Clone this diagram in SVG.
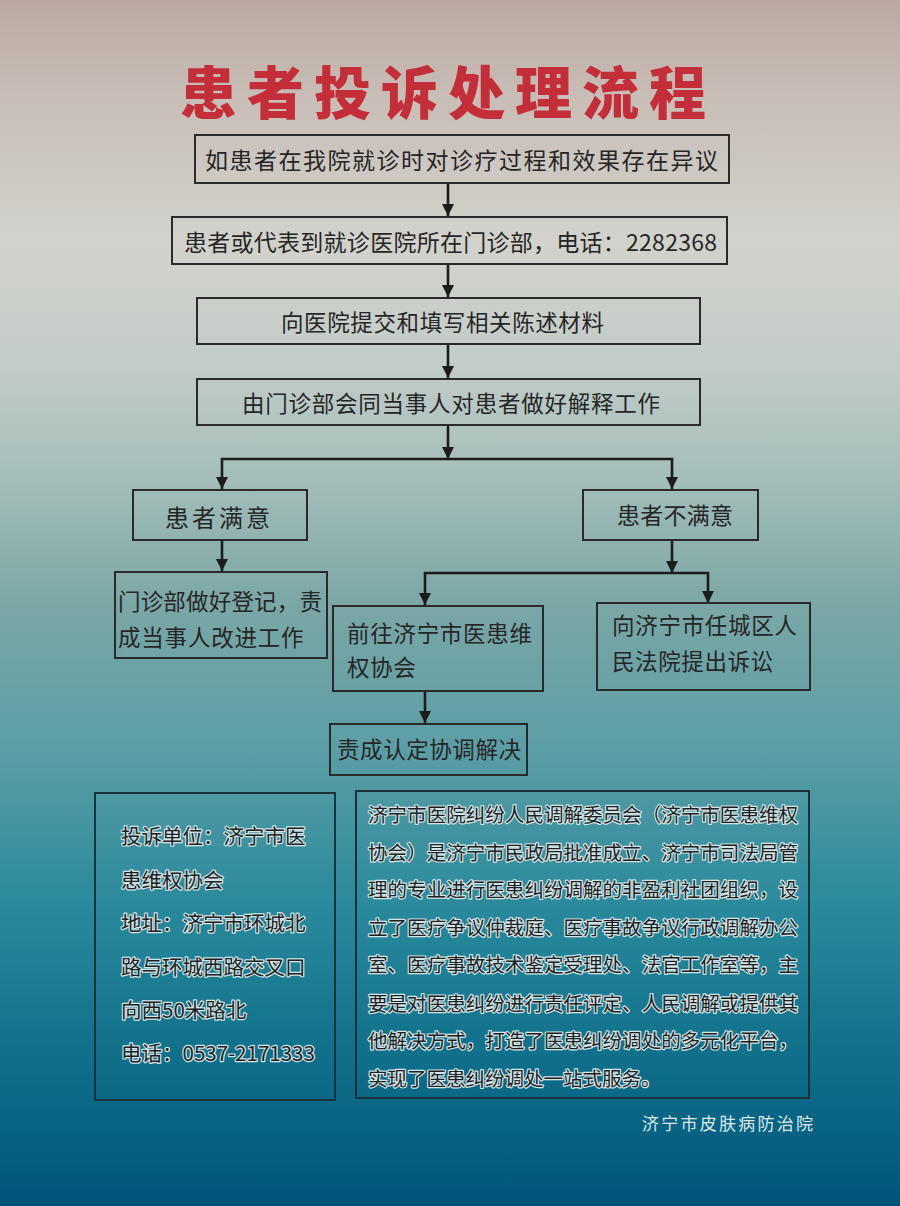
<svg xmlns="http://www.w3.org/2000/svg" width="900" height="1206" viewBox="0 0 900 1206">
<defs>
<linearGradient id="bg" x1="0" y1="0" x2="0" y2="1">
<stop offset="0" stop-color="#bba9a1"/>
<stop offset="0.08" stop-color="#c8bdb7"/>
<stop offset="0.2" stop-color="#d2d2cc"/>
<stop offset="0.3" stop-color="#c3ccc8"/>
<stop offset="0.4" stop-color="#a3bdb9"/>
<stop offset="0.5" stop-color="#7ba7a6"/>
<stop offset="0.62" stop-color="#5c9ea6"/>
<stop offset="0.75" stop-color="#2a8a9c"/>
<stop offset="0.88" stop-color="#0f6f8a"/>
<stop offset="1" stop-color="#01547a"/>
</linearGradient>
<marker id="arr" markerUnits="userSpaceOnUse" markerWidth="14" markerHeight="12" refX="12" refY="6" orient="auto">
<path d="M0,0 L12,6 L0,12 Z" fill="#1c1c1c"/>
</marker>
<style>
.box{fill:none;stroke:#2a2a2a;stroke-width:2}
.box2{fill:none;stroke:#1b3238;stroke-width:2}
.t{font-family:"Noto Sans CJK SC","Noto Sans",sans-serif;fill:#262626;font-size:22.5px;dominant-baseline:central}
.big{font-size:23px}
.h{paint-order:stroke;stroke:#d6e4e4;stroke-width:2.4px;stroke-linejoin:round;fill:#1a2226}
.info{font-size:20.5px}
.para{font-size:19.5px}
.foot{font-size:17px;fill:#dbe8ec}
.conn{fill:none;stroke:#1c1c1c;stroke-width:2.6}
</style>
</defs>
<rect x="0" y="0" width="900" height="1206" fill="url(#bg)"/>
<text x="448" y="89" text-anchor="middle" font-family="'Noto Sans CJK SC',sans-serif" font-weight="900" font-size="57" letter-spacing="10" fill="#c42e38" dominant-baseline="central">患者投诉处理流程</text>

<g id="connectors">
<path class="conn" d="M448,183 V216" marker-end="url(#arr)"/>
<path class="conn" d="M448,264 V297" marker-end="url(#arr)"/>
<path class="conn" d="M448,344 V378" marker-end="url(#arr)"/>
<path class="conn" d="M448,425 V459" marker-end="url(#arr)"/>
<path class="conn" d="M448,459 H222 V489" marker-end="url(#arr)"/>
<path class="conn" d="M448,459 H672 V489" marker-end="url(#arr)"/>
<path class="conn" d="M222,540 V571" marker-end="url(#arr)"/>
<path class="conn" d="M672,540 V573" marker-end="url(#arr)"/>
<path class="conn" d="M672,573 H425 V605" marker-end="url(#arr)"/>
<path class="conn" d="M672,573 H708 V603" marker-end="url(#arr)"/>
<path class="conn" d="M425,691 V723" marker-end="url(#arr)"/>
</g>

<g id="n1"><rect class="box" x="195" y="135" width="534" height="48"/>
<text class="t big" x="205" y="159" textLength="513" lengthAdjust="spacing">如患者在我院就诊时对诊疗过程和效果存在异议</text></g>
<g id="n2"><rect class="box" x="172" y="217" width="555" height="47"/>
<text class="t big" x="184" y="241" textLength="533" lengthAdjust="spacing">患者或代表到就诊医院所在门诊部，电话：2282368</text></g>
<g id="n3"><rect class="box" x="197" y="298" width="503" height="46"/>
<text class="t" x="281" y="321" textLength="323" lengthAdjust="spacing">向医院提交和填写相关陈述材料</text></g>
<g id="n4"><rect class="box" x="197" y="379" width="503" height="46"/>
<text class="t" x="242" y="402" textLength="418" lengthAdjust="spacing">由门诊部会同当事人对患者做好解释工作</text></g>
<g id="n5"><rect class="box" x="133" y="490" width="174" height="50"/>
<text class="t" x="165" y="516" style="font-size:24px" textLength="105" lengthAdjust="spacing">患者满意</text></g>
<g id="n6"><rect class="box" x="583" y="490" width="175" height="50"/>
<text class="t big" x="617" y="514" textLength="116" lengthAdjust="spacing">患者不满意</text></g>
<g id="n7"><rect class="box" x="115" y="572" width="212" height="86"/>
<text class="t" x="118" y="600" textLength="204" lengthAdjust="spacing">门诊部做好登记，责</text>
<text class="t" x="118" y="636" letter-spacing="0.8">成当事人改进工作</text></g>
<g id="n8"><rect class="box" x="333" y="606" width="210" height="85"/>
<text class="t" x="347" y="632" textLength="185" lengthAdjust="spacing">前往济宁市医患维</text>
<text class="t" x="347" y="666" letter-spacing="0.6">权协会</text></g>
<g id="n9"><rect class="box" x="597" y="603" width="213" height="87"/>
<text class="t" x="612" y="624" textLength="185" lengthAdjust="spacing">向济宁市任城区人</text>
<text class="t" x="612" y="660" letter-spacing="0.6">民法院提出诉讼</text></g>
<g id="n10"><rect class="box" x="330" y="724" width="197" height="51"/>
<text class="t" x="337" y="748" textLength="184" lengthAdjust="spacing">责成认定协调解决</text></g>

<g id="info-left"><rect class="box2" x="95" y="793" width="240" height="307"/>
<text class="t h info" x="121" y="835">投诉单位：济宁市医</text>
<text class="t h info" x="121" y="879">患维权协会</text>
<text class="t h info" x="121" y="922">地址：济宁市环城北</text>
<text class="t h info" x="121" y="966">路与环城西路交叉口</text>
<text class="t h info" x="121" y="1009">向西50米路北</text>
<text class="t h info" x="121" y="1052">电话：0537-2171333</text></g>

<g id="info-right"><rect class="box2" x="356" y="791" width="453" height="307"/>
<text class="t h para" x="368" y="813" textLength="430" lengthAdjust="spacing">济宁市医院纠纷人民调解委员会（济宁市医患维权</text>
<text class="t h para" x="368" y="851" textLength="430" lengthAdjust="spacing">协会）是济宁市民政局批准成立、济宁市司法局管</text>
<text class="t h para" x="368" y="888" textLength="430" lengthAdjust="spacing">理的专业进行医患纠纷调解的非盈利社团组织，设</text>
<text class="t h para" x="368" y="926" textLength="430" lengthAdjust="spacing">立了医疗争议仲裁庭、医疗事故争议行政调解办公</text>
<text class="t h para" x="368" y="963" textLength="430" lengthAdjust="spacing">室、医疗事故技术鉴定受理处、法官工作室等，主</text>
<text class="t h para" x="368" y="1002" textLength="430" lengthAdjust="spacing">要是对医患纠纷进行责任评定、人民调解或提供其</text>
<text class="t h para" x="368" y="1039" textLength="430" lengthAdjust="spacing">他解决方式，打造了医患纠纷调处的多元化平台，</text>
<text class="t h para" x="368" y="1077">实现了医患纠纷调处一站式服务。</text></g>

<text class="t foot" x="642" y="1122" textLength="171" lengthAdjust="spacing">济宁市皮肤病防治院</text>
</svg>
